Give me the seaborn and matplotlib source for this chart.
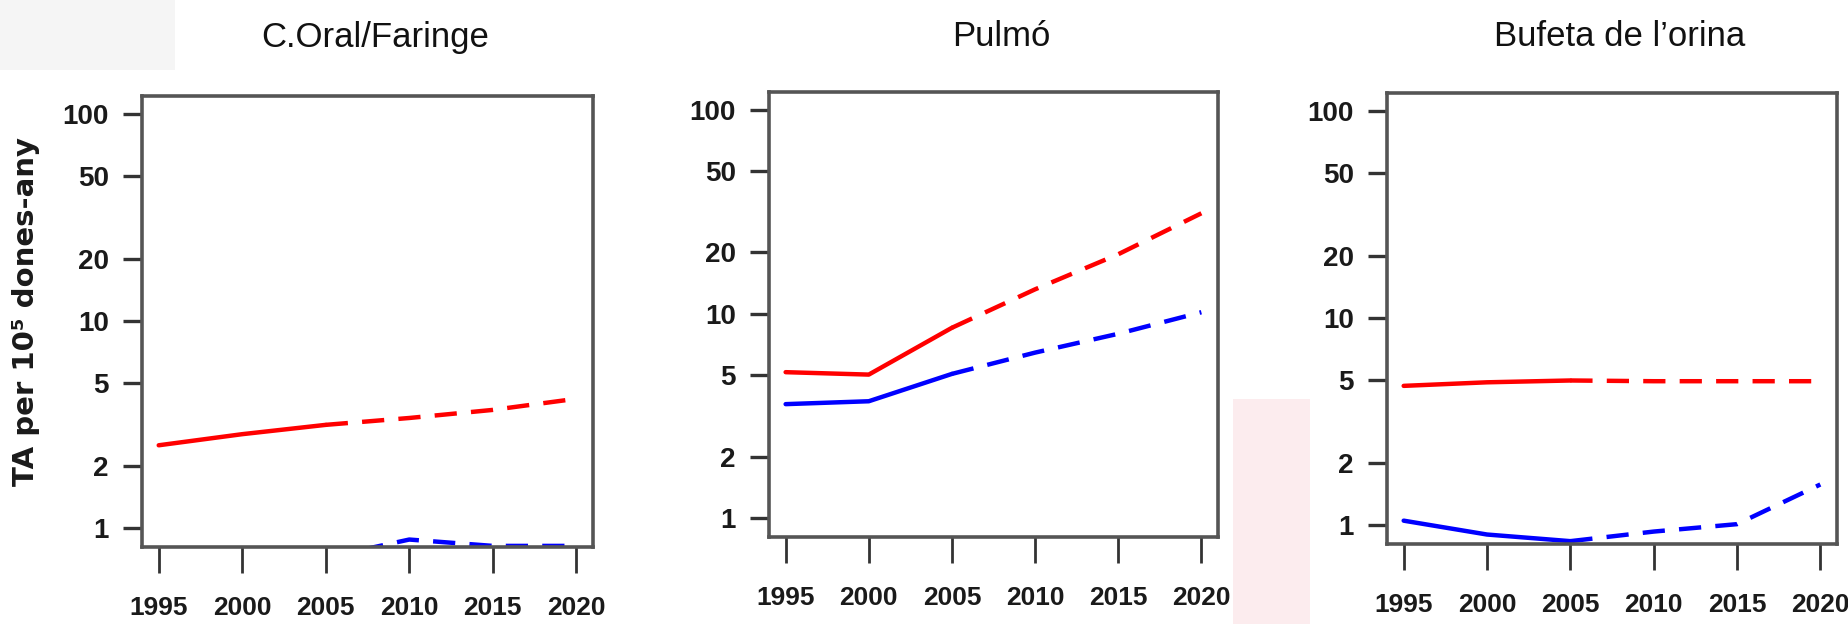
import matplotlib
matplotlib.use("Agg")
import matplotlib.pyplot as plt
import matplotlib.ticker as mticker
from matplotlib.patches import Rectangle
import seaborn as sns

# --- datos ---
titulos = ["C.Oral/Faringe", "Pulmó", "Bufeta de l’orina"]
anys_obs = [1995, 2000, 2005]
anys_proj = [2005, 2010, 2015, 2020]

# homes (vermell) / dones (blau), valors observats i projectats
homes_obs = [[2.51, 2.84, 3.15], [5.19, 5.05, 8.56], [4.70, 4.89, 4.99]]
homes_proj = [[3.15, 3.40, 3.72, 4.21], [8.56, 13.2, 19.6, 31.1], [4.99, 4.95, 4.95, 4.95]]
dones_obs = [[0.60, 0.65, 0.72], [3.62, 3.74, 5.09], [1.05, 0.90, 0.836]]
dones_proj = [[0.72, 0.88, 0.82, 0.82], [5.09, 6.47, 8.0, 10.2], [0.836, 0.93, 1.01, 1.57]]

yticks = [1, 2, 5, 10, 20, 50, 100]
xticks = [1995, 2000, 2005, 2010, 2015, 2020]
ylabel = "TA per 10⁵ dones-any"

sns.set_style("ticks")
plt.rcParams["font.family"] = ["Liberation Sans", "DejaVu Sans"]

W, H = 1849, 624
fig = plt.figure(figsize=(W / 100, H / 100), dpi=100)

# fons: taques suaus de la captura original
fig.patches.append(Rectangle((1233 / W, 0), 77 / W, 225 / H, transform=fig.transFigure,
                             facecolor="#fbe4e7", edgecolor="none", alpha=0.7, zorder=0))
fig.patches.append(Rectangle((0, 1 - 70 / H), 175 / W, 70 / H, transform=fig.transFigure,
                             facecolor="#f5f5f5", edgecolor="none", zorder=0))

# posicions dels eixos en pixels (esquerra, dalt, dreta, baix)
caixes = [(142, 96, 593, 547), (769, 92, 1218, 537), (1387, 93, 1837, 544)]

vermell = "#ff0000"
blau = "#0000ff"
guions = (0, (5, 3.2))
gruix = 3.2

for i, (l, t, r, b) in enumerate(caixes):
    ax = fig.add_axes([l / W, 1 - b / H, (r - l) / W, (b - t) / H])
    ax.set_yscale("log")

    sns.lineplot(x=anys_obs, y=homes_obs[i], ax=ax, color=vermell, linewidth=gruix)
    sns.lineplot(x=anys_proj, y=homes_proj[i], ax=ax, color=vermell, linewidth=gruix, linestyle=guions)
    sns.lineplot(x=anys_obs, y=dones_obs[i], ax=ax, color=blau, linewidth=gruix)
    sns.lineplot(x=anys_proj, y=dones_proj[i], ax=ax, color=blau, linewidth=gruix, linestyle=guions)

    ax.set_xlim(1994, 2021)
    ax.set_ylim(0.81, 122)
    ax.set_xticks(xticks)
    ax.set_yticks(yticks)
    ax.yaxis.set_major_formatter(mticker.FixedFormatter([str(v) for v in yticks]))
    ax.yaxis.set_minor_locator(mticker.NullLocator())
    ax.set_xlabel("")
    ax.set_ylabel("")

    for s in ax.spines.values():
        s.set_visible(True)
        s.set_color("#555555")
        s.set_linewidth(2.6)

    ax.tick_params(axis="y", direction="out", length=14, width=2.4, color="#333333",
                   pad=10, labelsize=20, labelcolor="#1a1a1a")
    ax.tick_params(axis="x", direction="out", length=19, width=2.0, color="#333333",
                   pad=16, labelsize=19, labelcolor="#1a1a1a")
    for lab in ax.get_xticklabels() + ax.get_yticklabels():
        lab.set_fontweight("bold")

    fig.text((l + r) / 2 / W + 8 / W, 1 - 37 / H, titulos[i], ha="center", va="center",
             fontsize=25, color="#111111")

fig.text(26 / W, 1 - 312 / H, ylabel, rotation=90, ha="center", va="center",
         fontsize=21, fontweight="bold", color="#1a1a1a", family=["DejaVu Sans"])

fig.savefig("out.png", dpi=100)
